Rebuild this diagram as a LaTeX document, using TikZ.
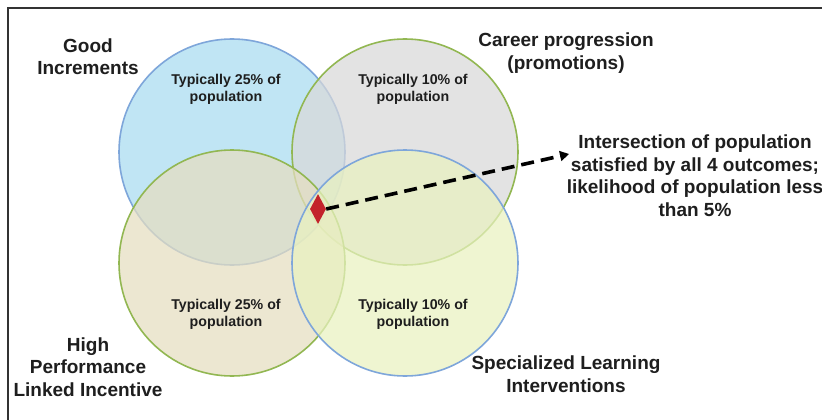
\documentclass[tikz,border=0pt]{standalone}
\usepackage{fontspec}
\setmainfont{Liberation Sans}
\usetikzlibrary{arrows.meta,shapes.geometric}
\definecolor{fblue}{HTML}{A9DBF0}
\definecolor{fgray}{HTML}{D9D9D9}
\definecolor{fbeige}{HTML}{E6DEC0}
\definecolor{fyellow}{HTML}{E9F2C0}
\definecolor{lblue}{HTML}{7EA6DA}
\definecolor{lgreen}{HTML}{92B752}
\definecolor{txt}{HTML}{1E1E1E}
\definecolor{dred}{HTML}{C3232B}
\tikzset{
  circ/.style={circle, minimum size=226pt, inner sep=0pt, line width=1.6pt, fill opacity=0.72},
  inner/.style={align=center, text=txt, font=\fontsize{14.2}{17}\selectfont\bfseries},
  lbl/.style={align=center, text=txt, font=\fontsize{19}{22.5}\selectfont\bfseries},
  darrow/.style={line width=3.6pt, dash pattern=on 13pt off 7pt, -{Triangle[length=9pt,width=10pt]}},
}
\begin{document}
\begin{tikzpicture}[x=1pt,y=-1pt]
\useasboundingbox (0,0) rectangle (822,420);
\fill[white] (0,0) rectangle (822,420);
\draw[line width=2pt, color=black!80] (7.5,430) -- (7.5,8) -- (830,8);
\node[circ, fill=fblue, draw=lblue] (cgood) at (232,152) {};
\node[circ, fill=fgray, draw=lgreen] (ccareer) at (405,152) {};
\node[circ, fill=fbeige, draw=lgreen] (chigh) at (232,263) {};
\node[circ, fill=fyellow, draw=lblue] (cspec) at (405,263) {};
\node[inner] (t1) at (226,89) {Typically 25\% of\\population};
\node[inner] (t2) at (413,89) {Typically 10\% of\\population};
\node[inner] (t3) at (226,314) {Typically 25\% of\\population};
\node[inner] (t4) at (413,314) {Typically 10\% of\\population};
\node[lbl] (lgood) at (88,56.5) {Good\\Increments};
\node[lbl] (lcareer) at (566,53) {Career progression\\(promotions)};
\node[lbl] (lhigh) at (88,367) {High\\Performance\\Linked Incentive};
\node[lbl] (lspec) at (566,374) {Specialized Learning\\Interventions};
\node[lbl] (linter) at (695,175.5) {Intersection of population\\satisfied by all 4 outcomes;\\likelihood of population less\\than 5\%};
\node[diamond, fill=dred, minimum width=16pt, minimum height=30pt, inner sep=0pt] (dia) at (318,209) {};
\coordinate (tip) at (569,154);
\draw[darrow] (dia.east) -- (tip);
\end{tikzpicture}
\end{document}
